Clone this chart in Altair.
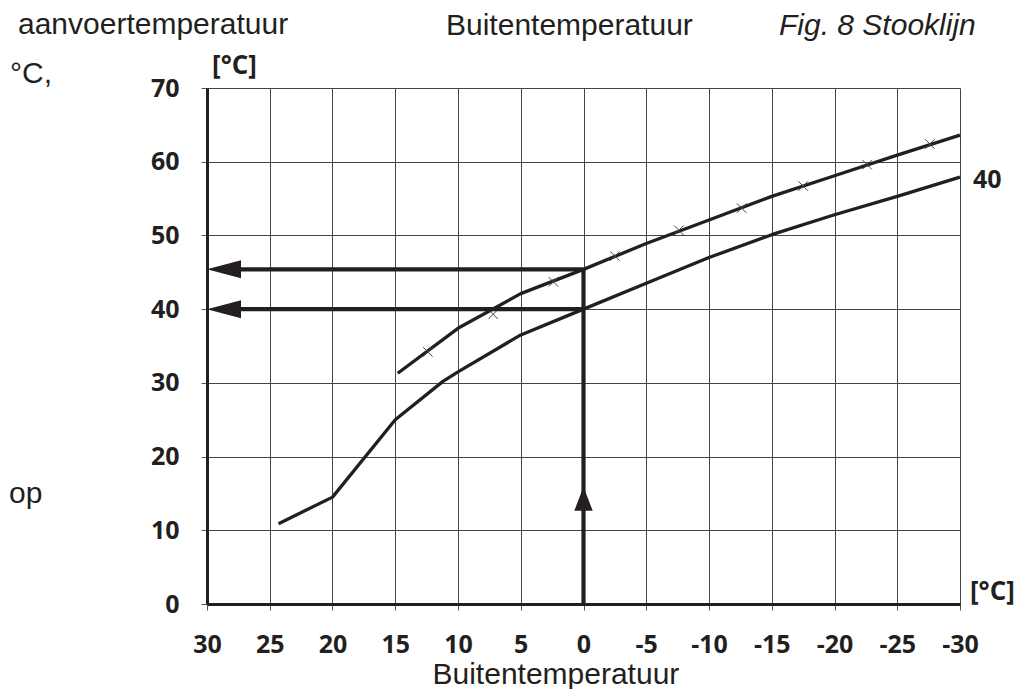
import altair as alt
import pandas as pd

# ---- data ----
upper_x = [14.8, 10, 5, 0, -5, -10, -15, -20, -25, -30]
upper_y = [31.3, 37.4, 42.1, 45.4, 48.9, 52.1, 55.3, 58.1, 60.9, 63.6]

marker_x = [12.4, 7.2, 2.4, -2.5, -7.6, -12.6, -17.5, -22.6, -27.6]
marker_y = [34.2, 39.3, 43.7, 47.2, 50.7, 53.7, 56.7, 59.6, 62.4]

lower_x = [24.3, 20, 15, 11.2, 10, 5, 0, -5, -10, -15, -20, -25, -30]
lower_y = [10.9, 14.5, 25.0, 30.2, 31.5, 36.5, 40.0, 43.5, 47.0, 50.1, 52.8, 55.3, 57.9]

# guide arrows: outside temp 0 -> supply temps
arrow_h_y = [45.4, 40.0]
arrow_h_x0 = [0, 0]
arrow_h_x1 = [27.3, 27.3]
arrow_h_tip = [30, 30]
arrow_v_x = [0]
arrow_v_y0 = [0]
arrow_v_y1 = [45.4]
arrow_v_tip = [15.9]

x_ticks = [30, 25, 20, 15, 10, 5, 0, -5, -10, -15, -20, -25, -30]
y_ticks = [0, 10, 20, 30, 40, 50, 60, 70]

INK = "#231f20"
W, H = 753, 516

xscale = alt.Scale(domain=[-30, 30], reverse=True, nice=False, zero=False)
yscale = alt.Scale(domain=[0, 70], nice=False)

xaxis = alt.Axis(
    values=x_ticks, labelExpr="'' + datum.value", title="Buitentemperatuur",
    grid=True, gridColor="#454545", gridWidth=1, gridOpacity=1,
    domainColor=INK, domainWidth=3, tickColor="#555555", tickWidth=1, tickSize=6,
    labelFont="Open Sans", labelFontWeight="bold", labelFontSize=25, labelColor=INK,
    labelPadding=22, labelBaseline="top", labelFlush=False, labelOverlap=False,
    titleFont="Liberation Sans", titleFontSize=30, titleFontWeight="normal",
    titleColor=INK, titleAlign="left", titleX=225, titleY=79,
    titleBaseline="alphabetic", titleAnchor="start",
)
yaxis = alt.Axis(
    values=y_ticks, title="[°C]", titleAngle=0,
    grid=True, gridColor="#454545", gridWidth=1, gridOpacity=1,
    domainColor=INK, domainWidth=3, tickColor="#555555", tickWidth=1, tickSize=6,
    labelFont="Open Sans", labelFontWeight="bold", labelFontSize=25, labelColor=INK,
    labelPadding=22, labelFlush=False, labelOverlap=False,
    titleFont="Open Sans", titleFontSize=26, titleFontWeight="bold", titleColor=INK,
    titleAlign="center", titleBaseline="middle", titleX=27, titleY=-23,
)

upper_df = pd.DataFrame({"x": upper_x, "y": upper_y})
lower_df = pd.DataFrame({"x": lower_x, "y": lower_y})
marker_df = pd.DataFrame({"x": marker_x, "y": marker_y})

lower = alt.Chart(lower_df).mark_line(color=INK, strokeWidth=3.3, strokeJoin="round").encode(
    x=alt.X("x:Q", scale=xscale, axis=xaxis),
    y=alt.Y("y:Q", scale=yscale, axis=yaxis),
    order="x:O",
)
upper = alt.Chart(upper_df).mark_line(color=INK, strokeWidth=3.3, strokeJoin="round").encode(
    x=alt.X("x:Q", scale=xscale), y=alt.Y("y:Q", scale=yscale),
)
markers = alt.Chart(marker_df).mark_point(
    shape="M-1,-1L1,1M-1,1L1,-1", filled=False, size=90, strokeWidth=1,
    color="#444444", opacity=1,
).encode(x=alt.X("x:Q", scale=xscale), y=alt.Y("y:Q", scale=yscale))

h_df = pd.DataFrame({"y": arrow_h_y, "x0": arrow_h_x0, "x1": arrow_h_x1, "tip": arrow_h_tip})
v_df = pd.DataFrame({"x": arrow_v_x, "y0": arrow_v_y0, "y1": arrow_v_y1, "tip": arrow_v_tip})

h_lines = alt.Chart(h_df).mark_rule(color=INK, strokeWidth=4.2).encode(
    x=alt.X("x0:Q", scale=xscale), x2="x1:Q", y=alt.Y("y:Q", scale=yscale),
)
h_heads = alt.Chart(h_df).mark_point(
    shape="M0,0L2,-0.53L2,0.53Z", filled=True, size=1156, color=INK, opacity=1, strokeWidth=0,
).encode(x=alt.X("tip:Q", scale=xscale), y=alt.Y("y:Q", scale=yscale))

v_line = alt.Chart(v_df).mark_rule(color=INK, strokeWidth=4.2).encode(
    x=alt.X("x:Q", scale=xscale), y=alt.Y("y0:Q", scale=yscale), y2="y1:Q",
)
v_head = alt.Chart(v_df).mark_point(
    shape="M0,0L0.54,1.41L-0.54,1.41Z", filled=True, size=1156, color=INK, opacity=1, strokeWidth=0,
).encode(x=alt.X("x:Q", scale=xscale), y=alt.Y("tip:Q", scale=yscale))


def label(text, px, py, size=30, weight="normal", font="Liberation Sans", align="left",
          baseline="alphabetic", style=None):
    kw = dict(font=font, fontSize=size, fontWeight=weight, color=INK, align=align,
              baseline=baseline)
    if style:
        kw["fontStyle"] = style
    return alt.Chart(pd.DataFrame({"t": [text]})).mark_text(**kw).encode(
        text="t:N", x=alt.value(px), y=alt.value(py)
    )


texts = [
    label("aanvoertemperatuur", -189, -54),
    label("Buitentemperatuur", 239, -53),
    label("Fig. 8 Stooklijn", 572, -53, style="italic"),
    label("°C,", -197, -5),
    label("op", -198, 415),
    label("40", 766, 92, size=25, weight="bold", font="Open Sans", baseline="middle"),
    label("[°C]", 763, 504, size=26, weight="bold", font="Open Sans", baseline="middle"),
]

chart = alt.layer(lower, upper, markers, h_lines, v_line, h_heads, v_head, *texts).properties(
    width=W, height=H,
    autosize="none",
    padding={"left": 199, "top": 80, "right": 55, "bottom": 85},
).configure_view(stroke=INK, strokeWidth=2.5).configure(background="white")

chart.save("out.html", embed_options={"renderer": "svg", "actions": False})
